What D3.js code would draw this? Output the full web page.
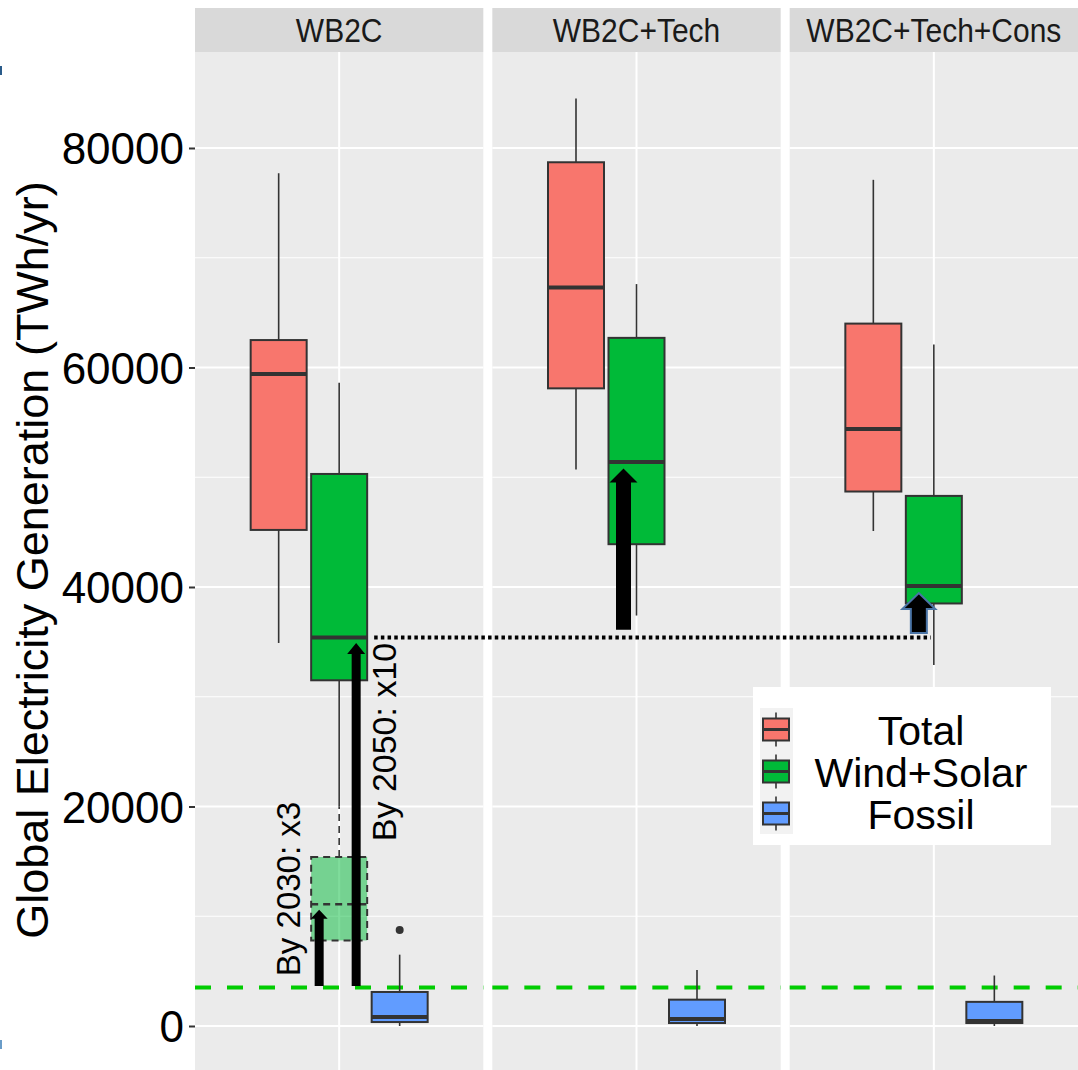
<!DOCTYPE html>
<html>
<head>
<meta charset="utf-8">
<script src="https://cdn.jsdelivr.net/npm/d3@7"></script>
<style>
body { margin: 0; background: #fff; }
text { font-family: "Liberation Sans", Arial, sans-serif; }
</style>
</head>
<body>
<svg class="plot" width="1078" height="1070"></svg>
<script>
// facets and series
var facets = ["WB2C", "WB2C+Tech", "WB2C+Tech+Cons"];
var series = ["Total", "Wind+Solar", "Fossil"];
var seriesColors = ["#F8766D", "#00BA38", "#619CFF"];

// box stats per facet: [lower whisker, Q1, median, Q3, upper whisker]
var totalStats = [[34900, 45200, 59400, 62500, 77700],
                  [50700, 58100, 67300, 78700, 84500],
                  [45100, 48700, 54400, 64000, 77100]];
var windSolarStats = [[20000, 31500, 35400, 50300, 58600],
                      [37400, 43900, 51400, 62700, 67600],
                      [32900, 38500, 40100, 48300, 62100]];
var fossilStats = [[0, 360, 820, 3100, 6500],
                   [0, 270, 640, 2400, 5100],
                   [0, 270, 460, 2200, 4600]];
var fossilOutliers = [[8750], [], []];

// 2030 wind+solar reference box (WB2C panel)
var windSolar2030 = [7800, 7800, 11100, 15400, 20000];

var yTicks = [0, 20000, 40000, 60000, 80000];
var yMinor = [10000, 30000, 50000, 70000];
var currentWindSolar = 3500;   // green dashed line

// arrows: facet index, from, to
var arrowFacet = [0, 0, 1, 2];
var arrowFrom = [3650, 3650, 36100, 35800];
var arrowTo = [10600, 34900, 50800, 39450];
var arrowLabels = ["By 2030: x3", "By 2050: x10"];
var legendLabels = ["Total", "Wind+Solar", "Fossil"];

var svg = d3.select(".plot");
var panelTop = 52, panelBottom = 1075;

var fx = d3.scaleBand().domain(facets).range([195, 1078]).paddingInner(0.0303);
var sx = d3.scalePoint().domain(series).range([-60.5, 60.5]);
var y = d3.scaleLinear().domain([0, 80000]).range([1026, 148]);
var boxW = 56;

function center(i) { return fx(facets[i]) + fx.bandwidth() / 2; }

// panels
facets.forEach(function(f, i) {
  var g = svg.append("g");
  g.append("rect").attr("x", fx(f)).attr("y", panelTop)
    .attr("width", fx.bandwidth()).attr("height", panelBottom - panelTop)
    .attr("fill", "#ebebeb");
  g.selectAll(".minor").data(yMinor).enter().append("line")
    .attr("x1", fx(f)).attr("x2", fx(f) + fx.bandwidth())
    .attr("y1", function(d) { return y(d); }).attr("y2", function(d) { return y(d); })
    .attr("stroke", "#fff").attr("stroke-width", 1);
  g.selectAll(".major").data(yTicks).enter().append("line")
    .attr("x1", fx(f)).attr("x2", fx(f) + fx.bandwidth())
    .attr("y1", function(d) { return y(d); }).attr("y2", function(d) { return y(d); })
    .attr("stroke", "#fff").attr("stroke-width", 2);
  g.append("line").attr("x1", center(i)).attr("x2", center(i))
    .attr("y1", panelTop).attr("y2", panelBottom)
    .attr("stroke", "#fff").attr("stroke-width", 2);
  // strip
  g.append("rect").attr("x", fx(f)).attr("y", 8)
    .attr("width", fx.bandwidth()).attr("height", panelTop - 8)
    .attr("fill", "#d9d9d9");
  g.append("text").attr("transform", "translate(" + center(i) + ",42) scale(1,1.1)")
    .attr("text-anchor", "middle").attr("fill", "#1a1a1a")
    .style("font-size", "30px").text(f);
  // reference dashed line
  g.append("line").attr("x1", fx(f)).attr("x2", fx(f) + fx.bandwidth())
    .attr("y1", y(currentWindSolar)).attr("y2", y(currentWindSolar))
    .attr("stroke", "#00cc00").attr("stroke-width", 4)
    .attr("stroke-dasharray", "16,16");
});

// y axis
var yAxis = d3.axisLeft(y).tickValues(yTicks).tickSize(6).tickPadding(5)
  .tickFormat(d3.format("d"));
var ya = svg.append("g").attr("transform", "translate(195,0)").call(yAxis);
ya.select(".domain").remove();
ya.selectAll("line").attr("stroke", "#333").attr("stroke-width", 2);
ya.selectAll("text").attr("fill", "#000").style("font-size", "44px")
  .style("font-family", "'Liberation Sans', Arial, sans-serif").attr("dy", "0.36em");

svg.append("text")
  .attr("transform", "translate(48,560) rotate(-90)")
  .attr("text-anchor", "middle").style("font-size", "45px").attr("fill", "#000")
  .text("Global Electricity Generation (TWh/yr)");

// boxplot drawing
function drawBox(g, cx, s, fill, opts) {
  opts = opts || {};
  var dash = opts.dash || null;
  var stroke = "#333";
  g.append("line").attr("x1", cx).attr("x2", cx)
    .attr("y1", y(s[3])).attr("y2", y(s[4]))
    .attr("stroke", stroke).attr("stroke-width", 1.6).attr("stroke-dasharray", dash);
  g.append("line").attr("x1", cx).attr("x2", cx)
    .attr("y1", y(s[1])).attr("y2", y(s[0]))
    .attr("stroke", stroke).attr("stroke-width", 1.6).attr("stroke-dasharray", dash);
  g.append("rect").attr("x", cx - boxW / 2).attr("y", y(s[3]))
    .attr("width", boxW).attr("height", y(s[1]) - y(s[3]))
    .attr("fill", fill).attr("fill-opacity", opts.alpha || 1)
    .attr("stroke", stroke).attr("stroke-width", 2).attr("stroke-dasharray", dash);
  g.append("line").attr("x1", cx - boxW / 2).attr("x2", cx + boxW / 2)
    .attr("y1", y(s[2])).attr("y2", y(s[2]))
    .attr("stroke", stroke).attr("stroke-width", opts.dash ? 2.5 : 4)
    .attr("stroke-dasharray", dash);
}

var statsBySeries = [totalStats, windSolarStats, fossilStats];
var boxes = svg.append("g");

// 2030 reference box first so arrows sit on top
drawBox(boxes, center(0) + sx("Wind+Solar"), windSolar2030, "#00BA38", {alpha: 0.5, dash: "7,5"});
facets.forEach(function(f, i) {
  series.forEach(function(s, j) {
    drawBox(boxes, center(i) + sx(s), statsBySeries[j][i], seriesColors[j]);
  });
  boxes.selectAll(null).data(fossilOutliers[i]).enter().append("circle")
    .attr("cx", center(i) + sx("Fossil")).attr("cy", function(d) { return y(d); })
    .attr("r", 4).attr("fill", "#333");
});

// dotted comparison line
svg.append("line")
  .attr("x1", center(0) + sx("Wind+Solar") + boxW / 2 + 7)
  .attr("x2", center(2) + sx("Wind+Solar") - 3)
  .attr("y1", y(windSolarStats[0][2])).attr("y2", y(windSolarStats[0][2]))
  .attr("stroke", "#000").attr("stroke-width", 4).attr("stroke-dasharray", "3.5,3.2");

// arrows
var arrowOffset = [-20, 17, -13, -15];
var shaftW = [9, 9, 15, 16];
var headW = [17, 18, 28, 33];
var headL = [9, 11, 14, 16];
var arrowStroke = [null, null, null, "#4a74a6"];
arrowFacet.forEach(function(fi, k) {
  var cx = center(fi) + sx("Wind+Solar") + arrowOffset[k];
  var yb = y(arrowFrom[k]), yt = y(arrowTo[k]);
  var hs = shaftW[k] / 2, hh = headW[k] / 2;
  var pts = [[cx - hs, yb], [cx - hs, yt + headL[k]], [cx - hh, yt + headL[k]], [cx, yt],
             [cx + hh, yt + headL[k]], [cx + hs, yt + headL[k]], [cx + hs, yb]];
  svg.append("path").attr("d", d3.line()(pts) + "Z")
    .attr("fill", "#000")
    .attr("stroke", arrowStroke[k] || "none").attr("stroke-width", 2);
});

// arrow labels
svg.append("text")
  .attr("transform", "translate(300,889) rotate(-90)")
  .attr("text-anchor", "middle").style("font-size", "33px").attr("fill", "#000")
  .text(arrowLabels[0]);
svg.append("text")
  .attr("transform", "translate(396,742) rotate(-90)")
  .attr("text-anchor", "middle").style("font-size", "34px").attr("fill", "#000")
  .text(arrowLabels[1]);

// legend
var lg = svg.append("g");
lg.append("rect").attr("x", 753).attr("y", 687).attr("width", 298).attr("height", 158).attr("fill", "#fff");
lg.append("rect").attr("x", 760).attr("y", 708).attr("width", 33).attr("height", 126).attr("fill", "#f2f2f2");
var keyY = d3.scalePoint().domain(legendLabels).range([729.5, 813.5]);
legendLabels.forEach(function(l, j) {
  var cy = keyY(l);
  lg.append("line").attr("x1", 776).attr("x2", 776).attr("y1", cy - 17).attr("y2", cy + 17)
    .attr("stroke", "#333").attr("stroke-width", 1.6);
  lg.append("rect").attr("x", 763).attr("y", cy - 11).attr("width", 26).attr("height", 22)
    .attr("fill", seriesColors[j]).attr("stroke", "#333").attr("stroke-width", 2);
  lg.append("line").attr("x1", 763).attr("x2", 789).attr("y1", cy).attr("y2", cy)
    .attr("stroke", "#333").attr("stroke-width", 3);
  lg.append("text").attr("x", 921).attr("y", cy + 15)
    .attr("text-anchor", "middle").style("font-size", "41px").attr("fill", "#000").text(l);
});

// stray marks at the left edge of the source image
svg.append("rect").attr("x", 0).attr("y", 66).attr("width", 2).attr("height", 9).attr("fill", "#2a5b8a");
svg.append("rect").attr("x", 0).attr("y", 1040).attr("width", 2).attr("height", 9).attr("fill", "#6a9cc8");
</script>
</body>
</html>
